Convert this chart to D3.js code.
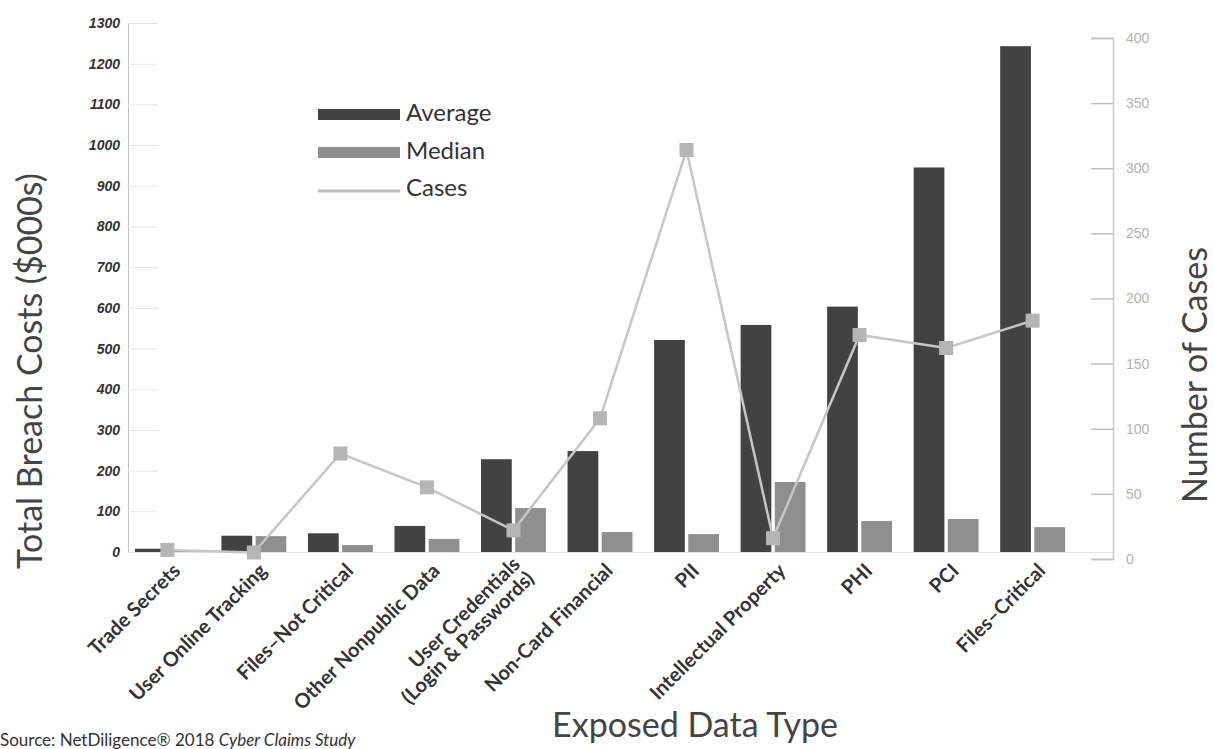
<!DOCTYPE html>
<html>
<head>
<meta charset="utf-8">
<script src="https://cdn.jsdelivr.net/npm/d3@7"></script>
<style>
  body { margin: 0; background: #fff; }
  svg { display: block; font-family: Lato, "Open Sans", sans-serif; }
</style>
</head>
<body>
<figure id="breachChart" style="margin:0"></figure>
<script>
// data
const categories = [
  "Trade Secrets", "User Online Tracking", "Files–Not Critical", "Other Nonpublic Data",
  "User Credentials|(Login & Passwords)", "Non-Card Financial", "PII", "Intellectual Property",
  "PHI", "PCI", "Files–Critical"
];
const averageCost = [8, 40, 46, 64, 228, 248, 521, 558, 603, 945, 1243];
const medianCost = [3, 39, 17, 32, 108, 49, 44, 172, 76, 81, 61];
const cases = [7, 5, 81, 55, 22, 108, 314, 16, 172, 162, 183];
const leftTicks = [0, 100, 200, 300, 400, 500, 600, 700, 800, 900, 1000, 1100, 1200, 1300];
const rightTicks = [0, 50, 100, 150, 200, 250, 300, 350, 400];
const seriesKeys = ["average", "median"];
const legendItems = ["Average", "Median", "Cases"];

const width = 1213, height = 749;
const plotLeft = 128, plotRight = 1113, bandRight = 1072;

const svg = d3.select("figure#breachChart").append("svg")
  .attr("width", width).attr("height", height);

const rows = categories.map((c, i) => ({ name: c, average: averageCost[i], median: medianCost[i], cases: cases[i] }));

const x0 = d3.scaleBand().domain(categories).range([plotLeft, bandRight])
  .paddingInner(0.25).paddingOuter(0.08);
const x1 = d3.scaleBand().domain(seriesKeys).range([0, x0.bandwidth()]).paddingInner(0.1);
const yL = d3.scaleLinear().domain([0, 1300]).range([552, 23]);
const yR = d3.scaleLinear().domain([0, 400]).range([559, 38]);
const colors = { average: "#424242", median: "#8f8f8f" };

// baseline
svg.append("line")
  .attr("x1", plotLeft).attr("x2", plotRight).attr("y1", yL(0) + 0.5).attr("y2", yL(0) + 0.5)
  .attr("stroke", "#e2e2e2");

// left axis
const leftAxis = svg.append("g")
  .attr("transform", "translate(" + plotLeft + ",0)")
  .call(d3.axisLeft(yL).tickValues(leftTicks).tickSize(-30).tickPadding(8).tickFormat(d3.format("d")));
leftAxis.select(".domain").attr("stroke", "#c4c4c4");
leftAxis.selectAll(".tick line").attr("stroke", "#e4e4e4");
leftAxis.selectAll(".tick text")
  .attr("fill", "#333").style("font-size", "14px").style("font-weight", "bold").style("font-style", "italic");

// right axis
const rightAxis = svg.append("g")
  .attr("transform", "translate(" + plotRight + ",0)")
  .call(d3.axisRight(yR).tickValues(rightTicks).tickSize(-22).tickPadding(13));
rightAxis.select(".domain").attr("stroke", "#c8c8c8").attr("stroke-width", 1.5);
rightAxis.selectAll(".tick line").attr("stroke", "#c0c0c0").attr("stroke-width", 1.5);
rightAxis.selectAll(".tick text").attr("fill", "#b2b2b2").style("font-size", "14px");

// bars
const groups = svg.append("g").attr("class", "bars")
  .selectAll("g").data(rows).enter().append("g")
  .attr("transform", d => "translate(" + x0(d.name) + ",0)");
groups.selectAll("rect")
  .data(d => seriesKeys.map(k => ({ key: k, value: d[k] })))
  .enter().append("rect")
  .attr("x", d => x1(d.key))
  .attr("width", x1.bandwidth())
  .attr("y", d => yL(d.value))
  .attr("height", d => yL(0) - yL(d.value))
  .attr("fill", d => colors[d.key]);

// cases line
const cx = d => x0(d.name) + x0.bandwidth() / 2;
svg.append("path")
  .datum(rows)
  .attr("fill", "none")
  .attr("stroke", "#c6c6c6")
  .attr("stroke-width", 2.5)
  .attr("d", d3.line().x(cx).y(d => yR(d.cases)));
svg.append("g").selectAll("rect").data(rows).enter().append("rect")
  .attr("x", d => cx(d) - 7).attr("y", d => yR(d.cases) - 7)
  .attr("width", 14).attr("height", 14)
  .attr("fill", "#b5b5b5");

// category labels
const labels = svg.append("g").selectAll("text").data(categories).enter().append("text")
  .attr("transform", d => "translate(" + (x0(d) + x0.bandwidth() / 2 + 14) + "," + (yL(0) + 20) + ") rotate(-45)")
  .attr("text-anchor", "end")
  .attr("fill", "#333")
  .style("font-size", "20px")
  .style("font-weight", "bold");
labels.each(function(d) {
  const parts = d.split("|");
  const t = d3.select(this);
  parts.forEach((p, i) => {
    t.append("tspan").attr("x", 0)
      .attr("dy", parts.length > 1 ? (i == 0 ? "-0.45em" : "1.0em") : 0)
      .text(p);
  });
});

// legend
const legend = svg.append("g").attr("transform", "translate(318,0)");
legend.append("rect").attr("x", 0).attr("y", 109).attr("width", 82).attr("height", 11).attr("fill", colors.average);
legend.append("rect").attr("x", 0).attr("y", 147).attr("width", 82).attr("height", 11).attr("fill", colors.median);
legend.append("line").attr("x1", 0).attr("x2", 82).attr("y1", 191).attr("y2", 191)
  .attr("stroke", "#bdbdbd").attr("stroke-width", 3);
legend.selectAll("text.leg").data(legendItems).enter().append("text")
  .attr("class", "leg")
  .attr("x", 88)
  .attr("y", (d, i) => [115, 153, 190][i])
  .attr("dominant-baseline", "middle")
  .attr("fill", "#333")
  .style("font-size", "24px")
  .text(d => d);

// axis titles
svg.append("text")
  .attr("transform", "translate(42,371) rotate(-90)")
  .attr("text-anchor", "middle").attr("fill", "#444").style("font-size", "34px")
  .text("Total Breach Costs ($000s)");
svg.append("text")
  .attr("transform", "translate(1207,375) rotate(-90)")
  .attr("text-anchor", "middle").attr("fill", "#444").style("font-size", "34px")
  .text("Number of Cases");
svg.append("text")
  .attr("x", 695).attr("y", 737)
  .attr("text-anchor", "middle").attr("fill", "#444").style("font-size", "34px")
  .text("Exposed Data Type");

// source
const src = svg.append("text").attr("x", 0).attr("y", 746).attr("fill", "#333").style("font-size", "17px");
src.append("tspan").text("Source: NetDiligence® 2018 ");
src.append("tspan").style("font-style", "italic").text("Cyber Claims Study");
</script>
</body>
</html>
